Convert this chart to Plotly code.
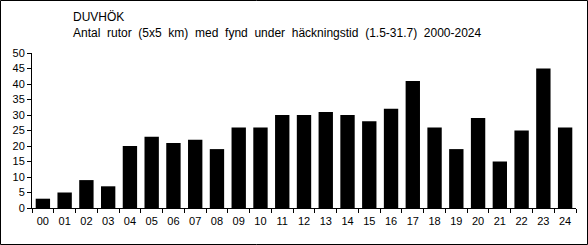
import plotly.graph_objects as go

years = ["00","01","02","03","04","05","06","07","08","09","10","11","12",
         "13","14","15","16","17","18","19","20","21","22","23","24"]
counts = [3,5,9,7,20,23,21,22,19,26,26,30,30,31,30,28,32,41,26,19,29,15,25,45,26]
title_line1 = "DUVHÖK"
title_line2 = "Antal rutor (5x5 km) med fynd under häckningstid (1.5-31.7) 2000-2024"

W, H = 588, 245
L, R, T, B = 32, 12, 53, 37
pw, ph = W - L - R, H - T - B

fig = go.Figure(go.Bar(x=years, y=counts, marker_color="black",
                       marker_line_width=0, width=0.66))

def px2paper_x(p): return (p - L) / pw
def px2paper_y(p): return (H - B - p) / ph

wide = title_line2.replace(" ", " \u00a0")

fig.update_layout(
    width=W, height=H,
    margin=dict(l=L, r=R, t=T, b=B),
    paper_bgcolor="white", plot_bgcolor="white",
    font=dict(family="Liberation Sans, Arial, sans-serif", size=11, color="black"),
    showlegend=False,
    xaxis=dict(type="category", showline=True, linecolor="black", linewidth=1,
               ticks="outside", tickson="boundaries", ticklen=4, tickcolor="black",
               showgrid=False, tickfont=dict(size=11), ticklabelstandoff=3),
    yaxis=dict(range=[0, 50], dtick=5, showline=True, linecolor="black", linewidth=1,
               ticks="outside", ticklen=4, tickcolor="black", showgrid=False,
               zeroline=False, tickfont=dict(size=11)),
    shapes=[dict(type="rect", xref="paper", yref="paper",
                 x0=px2paper_x(0.5), x1=px2paper_x(587.5),
                 y0=px2paper_y(244.5), y1=px2paper_y(0.5),
                 line=dict(color="black", width=1), fillcolor="rgba(0,0,0,0)")],
    annotations=[
        dict(text=title_line1, xref="paper", yref="paper", x=px2paper_x(71),
             y=px2paper_y(17), xanchor="left", yanchor="middle", showarrow=False,
             font=dict(size=12)),
        dict(text=wide, xref="paper", yref="paper", x=px2paper_x(71),
             y=px2paper_y(33), xanchor="left", yanchor="middle", showarrow=False,
             font=dict(size=12)),
    ],
)
fig.write_html("out.html")
